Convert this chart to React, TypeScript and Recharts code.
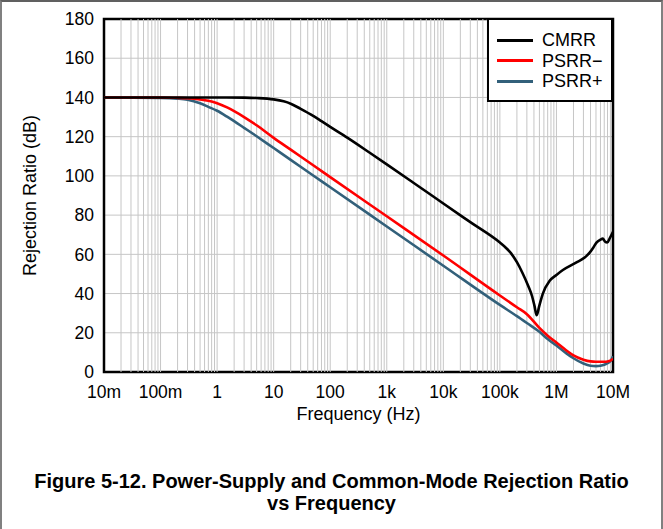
import React from 'react';
import {
  LineChart,
  Line,
  XAxis,
  YAxis,
  CartesianGrid,
  ReferenceLine,
  ReferenceArea,
  Legend,
} from 'recharts';

// ---- Axis ticks ----
const xTicks = [0.01, 0.1, 1, 10, 100, 1e3, 1e4, 1e5, 1e6, 1e7];
const xTickLabels = ['10m', '100m', '1', '10', '100', '1k', '10k', '100k', '1M', '10M'];
const yTicks = [0, 20, 40, 60, 80, 100, 120, 140, 160, 180];
const minorMultipliers = [2, 3, 4, 5, 6, 7, 8, 9];

// ---- Series: CMRR ----
const cmrrFreq = [
  0.01, 0.1, 1, 3, 5, 10, 15, 20, 30, 50, 70, 100, 200, 500, 1000, 3000, 10000, 30000,
  100000, 126000, 158000, 200000, 251000, 316000, 372000, 407000, 447000, 500000, 575000,
  760000, 1000000, 1300000, 2300000, 3200000, 3900000, 4500000, 5100000, 6000000, 6600000,
  7200000, 7900000, 8700000, 10000000,
];
const cmrrDb = [
  140, 140, 140, 139.9, 139.7, 139.0, 138, 136.8, 134.2, 130.6, 127.9, 125, 119.5, 111.8,
  105.9, 96.4, 85.9, 76.4, 66, 63.5, 60.5, 56, 50.5, 44, 38.5, 34, 29, 34, 40, 46.5, 49.5,
  52, 56, 58.5, 61, 63.5, 66, 67.5, 68, 66.5, 66, 68, 71.5,
];

// ---- Series: PSRR- ----
const psrrMinusFreq = [
  0.01, 0.1, 0.2, 0.3, 0.5, 0.7, 1, 1.5, 2, 3, 5, 10, 20, 50, 100, 1000, 10000, 100000,
  200000, 300000, 500000, 700000, 1e6, 1.5e6, 2e6, 3e6, 4e6, 5e6, 7e6, 8e6, 9e6, 1e7,
];
const psrrMinusDb = [
  140, 140, 139.8, 139.6, 139, 138.3, 137, 134.9, 133, 130, 125.8, 119.4, 113.4, 105.4,
  99.4, 79.4, 59.4, 39, 33, 29.5, 22.5, 18.5, 15, 11, 8.5, 6.3, 5.4, 5.2, 5.2, 5.4, 5.8, 6.8,
];

// ---- Series: PSRR+ ----
const psrrPlusFreq = [
  0.01, 0.1, 0.2, 0.3, 0.5, 0.7, 1, 1.5, 2, 3, 5, 10, 20, 50, 100, 1000, 10000, 100000,
  200000, 300000, 500000, 700000, 1e6, 1.5e6, 2e6, 3e6, 4e6, 5e6, 6e6, 7e6, 8e6, 9e6, 1e7,
];
const psrrPlusDb = [
  140, 139.8, 139.4, 138.8, 137, 135.2, 133.2, 130.2, 127.9, 124.5, 120.2, 114.2, 108.2,
  100.2, 94.2, 74.2, 54.2, 34.2, 28.5, 25, 20.5, 16.8, 13.5, 9.5, 7, 4.3, 3.2, 3, 3.2, 3.7,
  4.5, 5.5, 8,
];

const seriesNames = ['CMRR', 'PSRR\u2212', 'PSRR+'];
const titleLines = ['Figure 5-12. Power-Supply and Common-Mode Rejection Ratio', 'vs Frequency'];

const toRows = (fs: number[], vs: number[]) => fs.map((f, i) => ({ f, v: vs[i] }));
const cmrrData = toRows(cmrrFreq, cmrrDb);
const psrrMinusData = toRows(psrrMinusFreq, psrrMinusDb);
const psrrPlusData = toRows(psrrPlusFreq, psrrPlusDb);

const minorGrid: number[] = [];
xTicks.slice(0, -1).forEach((d) => minorMultipliers.forEach((m) => minorGrid.push(d * m)));
const majorGrid = xTicks.slice(1, -1);

const COLORS = ['#000000', '#ff0000', '#32607a'];
const FONT = '"Liberation Sans", Arial, Helvetica, sans-serif';
const GRID = '#c6c6c6';

const fmtX = (v: number) => {
  const i = xTicks.findIndex((t) => Math.abs(t - v) / t < 1e-6);
  return i >= 0 ? xTickLabels[i] : '';
};

const LegendBox = () => (
  <div
    style={{
      position: 'relative',
      width: 126,
      height: 84,
      boxSizing: 'border-box',
      border: '2.5px solid #000',
      background: '#fff',
      fontFamily: FONT,
    }}
  >
    {seriesNames.map((n, i) => (
      <div
        key={n}
        style={{
          position: 'absolute',
          left: 8,
          top: 10 + i * 20.5,
          height: 20,
          display: 'flex',
          alignItems: 'center',
        }}
      >
        <div style={{ width: 36, height: 3, background: COLORS[i] }} />
        <span style={{ marginLeft: 9, fontSize: 18, color: '#000', lineHeight: '20px' }}>{n}</span>
      </div>
    ))}
  </div>
);

export default function App() {
  return (
    <div style={{ position: 'absolute', left: 0, top: 0, width: 663, height: 529, background: '#fff' }}>
      <div
        style={{
          position: 'absolute',
          left: 0,
          top: 0,
          width: 663,
          height: 529,
          boxSizing: 'border-box',
          borderLeft: '2px solid #808080',
          borderTop: '2px solid #606060',
          borderRight: '2px solid #808080',
        }}
      />
      <div style={{ position: 'absolute', left: 0, top: 0 }}>
        <LineChart
          width={663}
          height={529}
          margin={{ top: 19, right: 50, bottom: 109, left: 25 }}
          style={{ fontFamily: FONT }}
        >
          <CartesianGrid vertical={false} stroke={GRID} strokeWidth={1} />
          {minorGrid.map((v) => (
            <ReferenceLine key={'m' + v} x={v} stroke={GRID} strokeWidth={1} />
          ))}
          {majorGrid.map((v) => (
            <ReferenceLine key={'M' + v} x={v} stroke={GRID} strokeWidth={1} />
          ))}
          <XAxis
            dataKey="f"
            type="number"
            scale="log"
            domain={[0.01, 1e7]}
            ticks={xTicks}
            interval={0}
            allowDataOverflow
            tickFormatter={fmtX}
            tickLine={false}
            axisLine={false}
            tickMargin={8}
            height={48}
            tick={{ fill: '#000', fontSize: 17.5, fontFamily: FONT }}
            label={{
              value: 'Frequency (Hz)',
              position: 'insideBottom',
              offset: 0,
              fill: '#000',
              fontSize: 18,
              fontFamily: FONT,
            }}
          />
          <YAxis
            type="number"
            domain={[0, 180]}
            ticks={yTicks}
            interval={0}
            tickLine={false}
            axisLine={false}
            tickMargin={4}
            width={79}
            tick={{ fill: '#000', fontSize: 17.5, fontFamily: FONT }}
            label={{
              value: 'Rejection Ratio (dB)',
              angle: -90,
              position: 'insideLeft',
              offset: 5,
              fill: '#000',
              fontSize: 18,
              fontFamily: FONT,
              style: { textAnchor: 'middle' },
            }}
          />
          <Line
            data={psrrPlusData}
            dataKey="v"
            name={seriesNames[2]}
            type="monotone"
            stroke={COLORS[2]}
            strokeWidth={2.6}
            dot={false}
            isAnimationActive={false}
          />
          <Line
            data={psrrMinusData}
            dataKey="v"
            name={seriesNames[1]}
            type="monotone"
            stroke={COLORS[1]}
            strokeWidth={2.6}
            dot={false}
            isAnimationActive={false}
          />
          <Line
            data={cmrrData}
            dataKey="v"
            name={seriesNames[0]}
            type="monotone"
            stroke={COLORS[0]}
            strokeWidth={2.6}
            dot={false}
            isAnimationActive={false}
          />
          <ReferenceArea
            x1={0.01}
            x2={1e7}
            y1={0}
            y2={180}
            fill="none"
            fillOpacity={0}
            stroke="#000"
            strokeWidth={2.5}
          />
          <Legend
            layout="horizontal"
            verticalAlign="middle"
            align="center"
            content={() => <LegendBox />}
            wrapperStyle={{ position: 'absolute', left: 487, top: 18, width: 126, height: 84 }}
          />
        </LineChart>
      </div>
      <div
        style={{
          position: 'absolute',
          left: 0,
          top: 470,
          width: 663,
          textAlign: 'center',
          fontFamily: FONT,
          fontWeight: 'bold',
          fontSize: 20,
          lineHeight: '22px',
          color: '#000',
        }}
      >
        {titleLines.map((t) => (
          <div key={t}>{t}</div>
        ))}
      </div>
    </div>
  );
}
